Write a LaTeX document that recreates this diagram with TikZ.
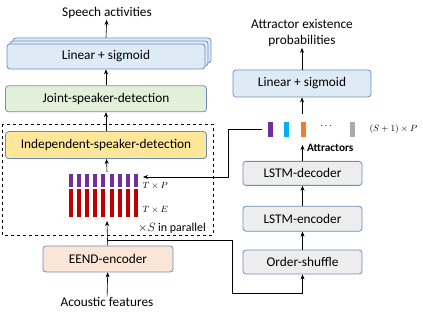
\documentclass[tikz,border=0pt]{standalone}
\usepackage{fontspec}
\setmainfont{Carlito}
\usetikzlibrary{arrows.meta, positioning, calc}
\definecolor{bdr}{RGB}{108,142,191}
\definecolor{blu}{RGB}{222,235,247}
\definecolor{grn}{RGB}{226,240,217}
\definecolor{ylw}{RGB}{255,230,153}
\definecolor{pch}{RGB}{251,229,214}
\definecolor{gry}{RGB}{237,237,237}
\definecolor{purp}{RGB}{112,48,160}
\definecolor{crim}{RGB}{192,0,0}
\definecolor{cyn}{RGB}{0,176,240}
\definecolor{orng}{RGB}{237,125,49}
\definecolor{gbar}{RGB}{170,170,170}

\begin{document}
\begin{tikzpicture}[x=1pt, y=-1pt,
    blk/.style={rectangle, rounded corners=3pt, draw=bdr, thick, font=\fontsize{13.3}{15}\selectfont, minimum height=25pt, align=center, inner ysep=1pt},
    e/.style={-{Stealth[length=5pt, width=4pt]}, semithick},
    lab/.style={font=\fontsize{13.3}{16}\selectfont, align=center, inner sep=1pt},
    dim/.style={font=\fontsize{9.5}{10}\selectfont},
]
    \useasboundingbox (0,0) rectangle (423,320);
    % left column
    \node[blk, fill=blu, minimum width=198pt] (lin1c) at (112,50.5) {};
    \node[blk, fill=blu, minimum width=198pt] (lin1b) at (109,53.5) {};
    \node[blk, fill=blu, minimum width=198pt] (lin1) at (106,56.5) {Linear + sigmoid};
    \node[blk, fill=grn, minimum width=201pt, minimum height=26pt, below=16pt of lin1] (joint) {Joint-speaker-detection};
    \node[blk, fill=ylw, minimum width=201pt, minimum height=27pt, below=19pt of joint] (isd) {Independent-speaker-detection};
    \node[blk, fill=pch, minimum width=130pt, minimum height=26pt] (eend) at (108,259) {EEND-encoder};
    \node[lab] (speech) at (107,13) {Speech activities};
    \node[lab] (acou) at (107,302) {Acoustic features};
    \draw[dashed, thick] (2,124) rectangle (213,235);
    \foreach \i in {0,...,8} {
        \fill[purp] (69+\i*8.1,174) rectangle ++(4,13);
        \fill[crim] (69+\i*8.1,189) rectangle ++(4,28);
    }
    \node[dim, anchor=west] (tp) at (139,186) {$T\times P$};
    \node[dim, anchor=west] (te) at (139,210) {$T\times E$};
    \node[font=\fontsize{12}{13}\selectfont, anchor=west, inner xsep=0pt] (par) at (138,228) {$\times S$ in parallel};
    \coordinate (bartop) at (107,172);
    \coordinate (barbot) at (107,221);
    \coordinate (split) at (107,240);
    \coordinate (low) at (232,293);
    \coordinate (pin) at (143,177);

    % right column
    \node[blk, fill=blu, minimum width=138pt, minimum height=27pt] (lin2) at (302,83.5) {Linear + sigmoid};
    \node[lab] (prob) at (302,33) {Attractor existence\\probabilities};
    \node[blk, fill=gry, minimum width=119pt, minimum height=24pt] (shuf) at (302.5,262) {Order-shuffle};
    \node[blk, fill=gry, minimum width=119pt, above=18pt of shuf] (enc) {LSTM-encoder};
    \node[blk, fill=gry, minimum width=119pt, minimum height=24pt, above=20pt of enc] (dec) {LSTM-decoder};
    \fill[purp] (268,122) rectangle ++(5,15);
    \fill[cyn] (284,122) rectangle ++(5,15);
    \fill[orng] (300.5,122) rectangle ++(5,15);
    \fill[gbar] (350,122) rectangle ++(5,15);
    \node (dots) at (326,126) {$\cdots$};
    \node[dim, anchor=west] (sp) at (366,129) {$(S+1)\times P$};
    \coordinate (atop) at (302,114);
    \coordinate (att) at (302.5,145);
    \coordinate (aleft) at (262,129);
    \coordinate (abend) at (228,177);
    \node[font=\fontsize{11.3}{12}\selectfont\bfseries, anchor=west, inner xsep=2pt] (attl) at (305,148) {Attractors};

    \draw[e] ([yshift=6pt]lin1.north) -- (speech);
    \draw[e] (joint) -- (lin1);
    \draw[e] (isd) -- (joint);
    \draw[e] (bartop) -- (isd);
    \draw[e] (eend) -- (barbot);
    \draw[e] (acou) -- (eend);
    \draw[e] (split) -| (low) -| (shuf);
    \draw[e] (shuf) -- (enc);
    \draw[e] (enc) -- (dec);
    \draw[e] (dec) -- (att);
    \draw[e] (atop) -- (lin2);
    \draw[e] (lin2) -- (prob);
    \draw[e] (aleft) -| (abend) -- (pin);
\end{tikzpicture}
\end{document}
